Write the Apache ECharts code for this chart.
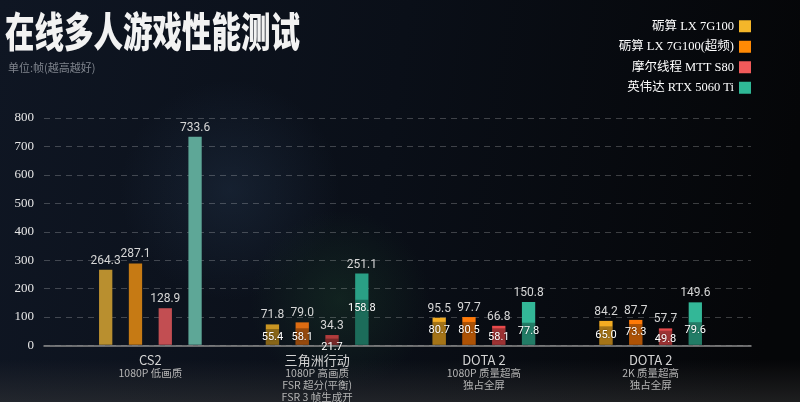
<!DOCTYPE html>
<html>
<head>
<meta charset="utf-8">
<script src="https://cdn.jsdelivr.net/npm/echarts@6/dist/echarts.min.js"></script>
<style>
html,body{margin:0;padding:0;background:#07090d;}
#chart{width:800px;height:402px;}
</style>
</head>
<body>
<div id="chart"></div>
<script>
// ---- data ----
const categories = [
  'CS2\n1080P 低画质',
  '三角洲行动\n1080P 高画质\nFSR 超分(平衡)\nFSR 3 帧生成开',
  'DOTA 2\n1080P 质量超高\n独占全屏',
  'DOTA 2\n2K 质量超高\n独占全屏'
];
const seriesNames = ['砺算 LX 7G100', '砺算 LX 7G100(超频)', '摩尔线程 MTT S80', '英伟达 RTX 5060 Ti'];
const avgLX7G100   = [264.3, 71.8, 95.5, 84.2];
const avgLX7G100OC = [287.1, 79.0, 97.7, 87.7];
const avgMTTS80    = [128.9, 34.3, 66.8, 57.7];
const avgRTX5060Ti = [733.6, 251.1, 150.8, 149.6];
const lowLX7G100   = [null, 55.4, 80.7, 65.0];
const lowLX7G100OC = [null, 58.1, 80.5, 73.3];
const lowMTTS80    = [null, 21.7, 58.1, 49.8];
const lowRTX5060Ti = [null, 158.8, 77.8, 79.6];
const yTicks = [0, 100, 200, 300, 400, 500, 600, 700, 800];

const avgData = [avgLX7G100, avgLX7G100OC, avgMTTS80, avgRTX5060Ti];
const lowData = [lowLX7G100, lowLX7G100OC, lowMTTS80, lowRTX5060Ti];

// ---- styles ----
const legendColors = ['#f4b62a', '#ff8a05', '#f05a5a', '#2fb896'];
const groupColors = [
  ['#b98f2f', '#c99522', '#f3ac22', '#f3ac22'],
  ['#c67a14', '#dc6c12', '#ff7a08', '#ff7a08'],
  ['#c24e52', '#b03c3c', '#e84a4c', '#e84a4c'],
  ['#5ea797', '#2a9f85', '#33b797', '#33b797']
];

const chart = echarts.init(document.getElementById('chart'), null, {renderer: 'canvas'});

const labelFont = 'Roboto, "Noto Sans", "Noto Sans CJK SC", sans-serif';
const series = [];
avgData.forEach((arr, i) => {
  series.push({
    name: seriesNames[i],
    type: 'bar',
    xAxisIndex: 1, yAxisIndex: 1,
    data: arr,
    barWidth: 13.3,
    barGap: '124%',
    itemStyle: {color: (p) => groupColors[i][p.dataIndex]},
    label: {
      show: true, position: 'top', distance: 3,
      color: '#d6d6d6', fontSize: 12, fontFamily: labelFont,
      formatter: (p) => p.value.toFixed(1)
    },
    z: 2
  });
});
lowData.forEach((arr, i) => {
  series.push({
    name: seriesNames[i] + ' 1% Low',
    type: 'bar',
    xAxisIndex: 2, yAxisIndex: 1,
    data: arr,
    barWidth: 13.3,
    barGap: '124%',
    itemStyle: {color: 'rgba(0,0,0,0.32)'},
    label: {
      show: true, position: 'insideTop', distance: 3,
      color: '#ffffff', fontSize: 11, fontFamily: labelFont,
      textShadowColor: 'rgba(0,0,0,0.6)', textShadowBlur: 2,
      formatter: (p) => (p.value == null ? '' : p.value.toFixed(1))
    },
    z: 3
  });
});

const option = {
  color: legendColors.concat(legendColors),
  backgroundColor: {
    type: 'linear', x: 0, y: 0, x2: 1, y2: 0.3,
    colorStops: [
      {offset: 0, color: '#0f1623'},
      {offset: 0.5, color: '#0a0f18'},
      {offset: 1, color: '#050608'}
    ]
  },
  animation: false,
  graphic: [
    {type: 'circle', shape: {cx: 230, cy: 190, r: 110}, z: -10, silent: true,
     style: {fill: {type: 'radial', x: 0.5, y: 0.5, r: 0.5, colorStops: [{offset: 0, color: 'rgba(40,60,85,0.35)'}, {offset: 1, color: 'rgba(40,60,85,0)'}]}}},
    {type: 'circle', shape: {cx: 340, cy: 300, r: 90}, z: -10, silent: true,
     style: {fill: {type: 'radial', x: 0.5, y: 0.5, r: 0.5, colorStops: [{offset: 0, color: 'rgba(30,70,45,0.35)'}, {offset: 1, color: 'rgba(30,70,45,0)'}]}}},
    {type: 'rect', shape: {x: 0, y: 360, width: 800, height: 42}, z: -10, silent: true,
     style: {fill: {type: 'linear', x: 0, y: 0, x2: 0, y2: 1, colorStops: [{offset: 0, color: 'rgba(60,60,60,0)'}, {offset: 1, color: 'rgba(60,60,60,0.45)'}]}}},
    {type: 'text', left: 5, top: 11, z: 10, scaleY: 1.38,
     style: {text: '在线多人游戏性能测试', fill: '#f2f2f2', fontSize: 29.5, fontWeight: 900,
             fontFamily: '"Noto Sans CJK SC", sans-serif'}},
    {type: 'text', left: 8, top: 62, z: 10,
     style: {text: '单位:帧(越高越好)', fill: '#7f848d', fontSize: 11,
             fontFamily: '"Noto Sans CJK SC", sans-serif'}}
  ],
  legend: {
    data: seriesNames,
    orient: 'vertical',
    right: 44, top: 15,
    align: 'right',
    icon: 'rect',
    itemWidth: 12, itemHeight: 12, itemGap: 8,
    textStyle: {color: '#ffffff', fontSize: 12.5, fontFamily: '"Liberation Serif", "Noto Sans CJK SC", serif'},
    selectedMode: false
  },
  grid: [
    {left: 44, right: 49, top: 118, bottom: 56.5},
    {left: 67, right: 66, top: 118, bottom: 56.5}
  ],
  xAxis: [
    {gridIndex: 0, type: 'value', min: 0, max: 1, show: true,
     axisLine: {show: true, lineStyle: {color: '#8a8a8a', width: 1.5}},
     axisTick: {show: false}, axisLabel: {show: false}, splitLine: {show: false}},
    {gridIndex: 1, type: 'category', data: categories,
     axisLine: {show: false}, axisTick: {show: false},
     axisLabel: {
       margin: 8, interval: 0,
       formatter: (v) => {
         const lines = v.split('\n');
         return ['{a|' + lines[0] + '}'].concat(lines.slice(1).map(l => '{b|' + l + '}')).join('\n');
       },
       rich: {
         a: {fontSize: 13, color: '#d4d4d4', lineHeight: 14, fontFamily: '"Noto Sans CJK SC", sans-serif'},
         b: {fontSize: 10.5, color: '#b4b4b4', lineHeight: 12, fontFamily: '"Noto Sans CJK SC", sans-serif'}
       }
     }},
    {gridIndex: 1, type: 'category', data: categories, show: false}
  ],
  yAxis: [
    {gridIndex: 0, type: 'value', min: yTicks[0], max: yTicks[yTicks.length - 1], interval: 100,
     axisLine: {show: false}, axisTick: {show: false},
     axisLabel: {color: '#e6e6e6', fontSize: 13, margin: 10, fontFamily: '"Liberation Serif", "DejaVu Serif", serif'},
     splitLine: {show: true, lineStyle: {color: 'rgba(255,255,255,0.22)', type: [6, 5], width: 1}}},
    {gridIndex: 1, type: 'value', min: yTicks[0], max: yTicks[yTicks.length - 1], interval: 100, show: false,
     splitLine: {show: false}}
  ],
  series: series
};
chart.setOption(option);
</script>
</body>
</html>
